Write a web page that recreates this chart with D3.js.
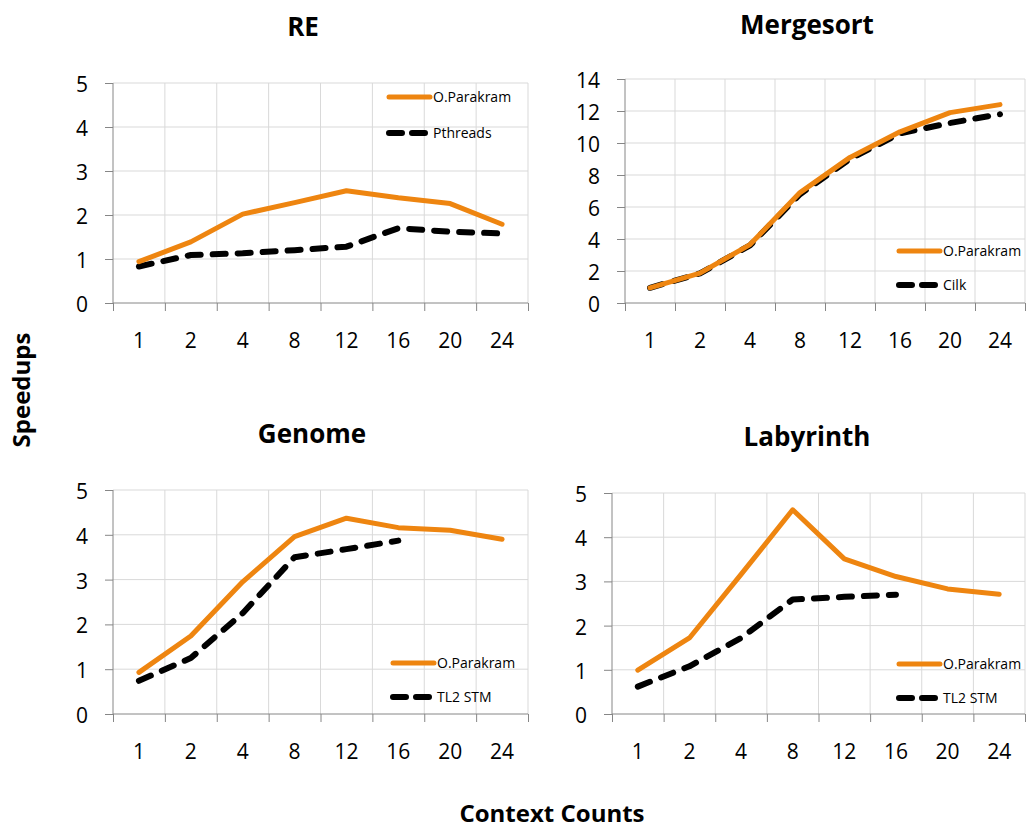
<!DOCTYPE html>
<html>
<head>
<meta charset="utf-8">
<script src="https://cdn.jsdelivr.net/npm/d3@7"></script>
<style>
body { margin: 0; background: #fff; }
svg { display: block; font-family: "Open Sans", sans-serif; }
</style>
</head>
<body>
<svg id="chart" width="1028" height="829"></svg>
<script>
const categories = ["1", "2", "4", "8", "12", "16", "20", "24"];

const reParakram = [0.94, 1.39, 2.02, 2.28, 2.55, 2.39, 2.26, 1.79];
const rePthreads = [0.83, 1.09, 1.13, 1.20, 1.28, 1.70, 1.62, 1.58];

const msParakram = [0.95, 1.87, 3.65, 6.9, 9.1, 10.7, 11.9, 12.4];
const msCilk = [0.95, 1.85, 3.60, 6.8, 9.0, 10.6, 11.25, 11.8];

const genParakram = [0.93, 1.74, 2.95, 3.96, 4.37, 4.16, 4.10, 3.90];
const genTL2 = [0.74, 1.25, 2.25, 3.50, 3.68, 3.87];

const labParakram = [0.99, 1.72, 3.16, 4.62, 3.51, 3.11, 2.83, 2.71];
const labTL2 = [0.62, 1.08, 1.72, 2.59, 2.65, 2.70];

const reTicks = [0, 1, 2, 3, 4, 5];
const msTicks = [0, 2, 4, 6, 8, 10, 12, 14];

const ORANGE = "#EE8510";
const AXIS = "#868686";
const GRID = "#d9d9d9";

const svg = d3.select("#chart");

const panels = [
  { title: "RE", tx: 303, ty: 36, box: [113, 528, 83, 303], ticks: reTicks,
    series: [reParakram, rePthreads], names: ["O.Parakram", "Pthreads"], leg: [386, 97, 133] },
  { title: "Mergesort", tx: 807, ty: 34, box: [625, 1025, 79, 303], ticks: msTicks,
    series: [msParakram, msCilk], names: ["O.Parakram", "Cilk"], leg: [896, 251, 285] },
  { title: "Genome", tx: 312, ty: 443, box: [113, 528, 490, 714], ticks: reTicks,
    series: [genParakram, genTL2], names: ["O.Parakram", "TL2 STM"], leg: [390, 663, 697] },
  { title: "Labyrinth", tx: 807, ty: 446, box: [612, 1025, 493, 714], ticks: reTicks,
    series: [labParakram, labTL2], names: ["O.Parakram", "TL2 STM"], leg: [896, 664, 698] }
];

function styleLine(sel, i) {
  if (i === 0) {
    sel.attr("stroke", ORANGE).attr("stroke-width", 5)
      .attr("stroke-linejoin", "round").attr("stroke-linecap", "round");
  } else {
    sel.attr("stroke", "#000").attr("stroke-width", 6)
      .attr("stroke-dasharray", "13,12")
      .attr("stroke-linejoin", "round").attr("stroke-linecap", "round");
  }
}

panels.forEach(p => {
  const [l, r, t, b] = p.box;
  const g = svg.append("g");
  const x = d3.scaleBand().domain(categories).range([l, r]).padding(0);
  const xb = d3.scaleLinear().domain([0, categories.length]).range([l, r]);
  const y = d3.scaleLinear().domain([0, d3.max(p.ticks)]).range([b, t]);

  // horizontal gridlines
  g.append("g").selectAll("line").data(p.ticks.filter(v => v > 0)).join("line")
    .attr("x1", l).attr("x2", r).attr("y1", d => y(d)).attr("y2", d => y(d))
    .attr("stroke", GRID).attr("stroke-width", 1);
  // vertical gridlines at category boundaries
  g.append("g").selectAll("line").data(d3.range(1, categories.length + 1)).join("line")
    .attr("x1", d => xb(d)).attr("x2", d => xb(d)).attr("y1", t).attr("y2", b)
    .attr("stroke", GRID).attr("stroke-width", 1);

  // y axis
  const ya = g.append("g").attr("transform", `translate(${l},0)`)
    .call(d3.axisLeft(y).tickValues(p.ticks).tickSize(8).tickPadding(17).tickFormat(d3.format("d")));
  ya.select(".domain").attr("stroke", AXIS).attr("d", `M0,${t}V${b}`);
  ya.selectAll(".tick line").attr("stroke", AXIS);
  ya.selectAll(".tick text").attr("font-size", 21).attr("fill", "#000")
    .attr("font-family", "Open Sans, sans-serif").attr("dy", "0.4em");

  // x axis: boundary ticks
  const xa = g.append("g").attr("transform", `translate(0,${b})`)
    .call(d3.axisBottom(xb).tickValues(d3.range(0, categories.length + 1)).tickSize(8).tickFormat(""));
  xa.select(".domain").attr("stroke", AXIS).attr("d", `M${l},0H${r}`);
  xa.selectAll(".tick line").attr("stroke", AXIS);
  // x labels
  const xl = g.append("g").attr("transform", `translate(0,${b})`)
    .call(d3.axisBottom(x).tickSize(0).tickPadding(0));
  xl.select(".domain").remove();
  xl.selectAll(".tick text").attr("font-size", 21).attr("fill", "#000")
    .attr("font-family", "Open Sans, sans-serif").attr("dy", null).attr("y", 45);

  // series
  const line = d3.line()
    .x((d, i) => x(categories[i]) + x.bandwidth() / 2)
    .y(d => y(d));
  [1, 0].forEach(i => {
    g.append("path").datum(p.series[i]).attr("fill", "none")
      .attr("d", line).call(styleLine, i);
  });

  // legend
  const [lx, ly1, ly2] = p.leg;
  [ly1, ly2].forEach((ly, i) => {
    g.append("line").attr("x1", lx + 3).attr("x2", lx + 44).attr("y1", ly).attr("y2", ly)
      .call(styleLine, i).attr("stroke-dasharray", i === 1 ? "13,10" : null);
    g.append("text").attr("x", lx + 47).attr("y", ly + 5).attr("font-size", 14)
      .attr("fill", "#000").text(p.names[i]);
  });

  // title
  svg.append("text").attr("x", p.tx).attr("y", p.ty).attr("text-anchor", "middle")
    .attr("font-size", 26).attr("font-weight", "bold").text(p.title);
});

svg.append("text").attr("transform", "translate(30,390) rotate(-90)")
  .attr("text-anchor", "middle").attr("font-size", 24).attr("font-weight", "bold").text("Speedups");
svg.append("text").attr("x", 552).attr("y", 822).attr("text-anchor", "middle")
  .attr("font-size", 24).attr("font-weight", "bold").text("Context Counts");
</script>
</body>
</html>
